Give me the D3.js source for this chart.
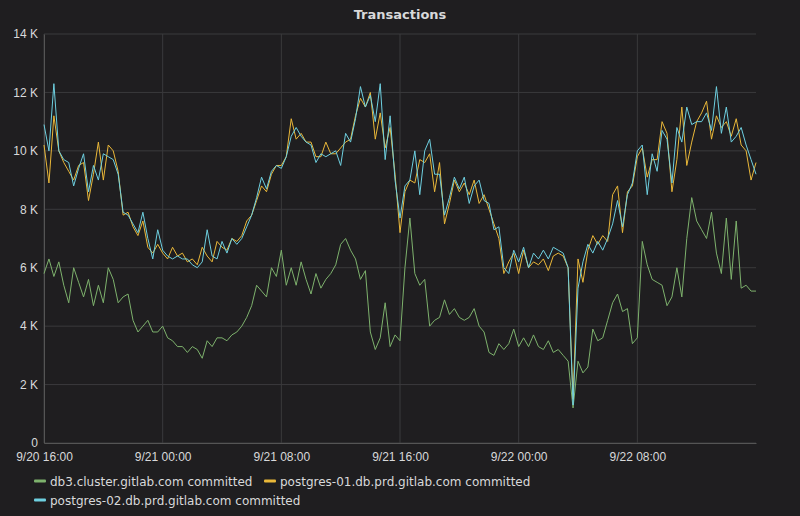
<!DOCTYPE html>
<html>
<head>
<meta charset="utf-8">
<script src="https://cdn.jsdelivr.net/npm/d3@7"></script>
<style>
  body { margin: 0; background: #1f1e20; }
  svg { font-family: "DejaVu Sans", sans-serif; }
</style>
</head>
<body>
<script>
// 20 minute samples, 9/20 16:00 to 9/22 16:00
let startTime = new Date(2018, 8, 20, 16, 0);
let stepMin = 20;

let db3 = [5.8,6.3,5.7,6.2,5.4,4.8,6.0,5.5,5.0,5.6,4.7,5.4,4.8,6.0,5.6,4.8,5.0,5.1,4.2,3.8,
  4.0,4.2,3.8,3.8,4.0,3.6,3.5,3.3,3.3,3.1,3.3,3.2,2.9,3.5,3.3,3.6,3.6,3.5,3.7,3.8,
  4.0,4.3,4.7,5.4,5.2,5.0,6.0,5.7,6.6,5.4,6.0,5.4,6.2,5.6,5.1,5.8,5.3,5.6,5.8,6.1,
  6.8,7.0,6.6,6.3,5.6,5.9,3.8,3.2,3.6,4.8,3.3,3.7,3.5,6.0,7.7,5.8,5.4,5.6,4.0,4.2,
  4.3,4.9,4.4,4.6,4.3,4.2,4.3,4.6,4.0,3.8,3.1,3.0,3.4,3.2,3.4,3.9,3.3,3.6,3.3,3.7,
  3.3,3.2,3.5,3.1,3.2,3.0,2.8,1.2,2.8,2.4,2.6,3.9,3.5,3.6,4.2,4.8,5.1,4.5,4.6,3.4,
  3.6,6.9,6.1,5.6,5.5,5.4,4.7,5.0,6.0,5.0,7.0,8.4,7.6,7.3,7.0,7.9,6.5,5.8,7.7,5.6,
  7.6,5.3,5.4,5.2,5.2];

let pg01 = [10.2,8.9,11.2,10.0,9.6,9.3,9.0,9.5,9.6,8.3,9.2,10.3,9.0,10.2,10.0,9.3,7.8,7.9,7.4,7.1,
  7.6,6.7,6.5,6.8,6.5,6.3,6.7,6.4,6.5,6.2,6.3,6.1,6.7,6.4,6.2,6.9,6.7,6.6,7.0,6.9,
  7.1,7.6,7.8,8.3,8.8,8.6,9.2,9.5,9.5,9.8,11.1,10.4,10.6,10.3,10.3,9.8,9.8,10.3,9.9,9.9,
  10.1,10.3,10.4,11.2,11.8,11.5,12.0,10.4,11.3,10.1,10.8,9.2,7.2,8.6,9.0,8.9,9.7,9.6,9.9,8.6,
  9.6,7.5,8.2,9.0,8.6,8.9,8.5,9.0,8.2,8.5,8.0,7.5,7.0,5.8,6.2,6.5,5.8,6.6,6.0,6.2,
  6.1,6.3,5.9,6.4,6.5,6.4,6.0,1.5,6.3,5.5,6.6,7.1,6.8,7.1,6.9,8.5,8.8,7.2,8.6,8.8,
  9.8,10.1,9.1,9.7,9.7,11.0,10.6,8.6,9.7,11.5,9.5,10.3,11.0,11.3,11.7,10.4,11.2,10.8,11.0,10.5,
  11.1,10.2,10.0,9.0,9.6];

let pg02 = [10.9,10.0,12.3,10.0,9.7,9.6,8.8,9.4,9.9,8.6,9.5,9.0,9.9,9.8,9.7,9.2,7.9,7.8,7.5,7.2,
  7.9,7.0,6.3,7.3,6.6,6.4,6.3,6.4,6.3,6.3,6.1,6.0,6.2,7.3,6.4,6.3,6.9,6.5,7.0,6.8,
  7.0,7.4,7.8,8.4,9.1,8.7,9.3,9.5,9.4,9.8,10.5,10.8,10.5,10.3,10.2,9.6,9.9,9.8,9.9,10.0,
  9.5,10.6,10.3,11.1,12.2,11.5,11.9,11.0,12.3,9.7,11.2,9.0,7.7,8.8,9.0,10.0,8.5,10.0,10.4,9.2,
  9.2,7.8,8.4,9.1,8.7,9.1,8.2,8.8,9.0,8.3,8.2,7.3,7.4,6.0,5.8,6.6,6.2,6.7,6.0,6.5,
  6.3,6.6,6.3,6.7,6.6,6.5,6.0,1.3,5.3,6.2,6.8,6.5,6.9,6.6,7.0,7.5,8.3,7.4,8.5,8.9,
  10.0,10.2,8.5,9.9,9.3,10.7,10.4,8.9,10.8,10.3,11.5,10.9,11.0,11.0,11.3,10.7,12.2,10.6,11.5,10.3,
  10.5,10.8,10.2,9.7,9.2];

let seriesNames = ["db3.cluster.gitlab.com committed", "postgres-01.db.prd.gitlab.com committed", "postgres-02.db.prd.gitlab.com committed"];
let seriesColors = ["#7eb26d", "#eab839", "#6ed0e0"];
let yTicks = [0, 2, 4, 6, 8, 10, 12, 14];

let w = 800, h = 516;
let margin = {left: 44, right: 44, top: 34, bottom: 73};

let svg = d3.select("body").append("svg").attr("width", w).attr("height", h);

let timeAt = (i) => new Date(startTime.getTime() + i * stepMin * 60000);

let xScale = d3.scaleTime()
  .domain([startTime, timeAt(db3.length - 1)])
  .range([margin.left, w - margin.right]);
let yScale = d3.scaleLinear().domain([0, 14]).range([h - margin.bottom, margin.top]);

// title
svg.append("text").attr("x", w / 2).attr("y", 19).attr("text-anchor", "middle")
  .attr("fill", "#d8d9da").style("font-size", "13px").style("font-weight", "bold")
  .text("Transactions");

// grid
let xTicks = d3.range(0, 6).map((k) => timeAt(k * 24));
svg.append("g").selectAll("line").data(yTicks).enter().append("line")
  .attr("x1", margin.left).attr("x2", w - margin.right)
  .attr("y1", (d) => yScale(d)).attr("y2", (d) => yScale(d))
  .style("stroke", "#3a3a3c");
svg.append("g").selectAll("line").data(xTicks).enter().append("line")
  .attr("x1", (d) => xScale(d)).attr("x2", (d) => xScale(d))
  .attr("y1", margin.top).attr("y2", h - margin.bottom)
  .style("stroke", "#3a3a3c");

// axes
let xAxis = d3.axisBottom(xScale).tickValues(xTicks).tickFormat(d3.timeFormat("%-m/%-d %H:%M")).tickSize(0).tickPadding(9);
let xg = svg.append("g").attr("transform", `translate(0, ${h - margin.bottom})`).call(xAxis);
let yAxis = d3.axisLeft(yScale).tickValues(yTicks).tickFormat((d) => d === 0 ? "0" : d + " K").tickSize(0).tickPadding(6);
let yg = svg.append("g").attr("transform", `translate(${margin.left}, 0)`).call(yAxis);
[xg, yg].forEach((g) => {
  g.select(".domain").style("stroke", "#555");
  g.selectAll("text").attr("fill", "#d8d9da").style("font-size", "12px");
});

// series
let line = d3.line().x((d, i) => xScale(timeAt(i))).y((d) => yScale(d));
[db3, pg01, pg02].forEach((s, k) => {
  svg.append("path").datum(s).attr("d", line)
    .style("fill", "none").style("stroke", seriesColors[k]).style("stroke-width", 1);
});

// legend
let legendPos = [[34, 481], [264, 481], [34, 500]];
seriesNames.forEach((n, k) => {
  let g = svg.append("g").attr("transform", `translate(${legendPos[k][0]}, ${legendPos[k][1]})`);
  g.append("rect").attr("x", 0).attr("y", -1.5).attr("width", 12).attr("height", 3).attr("rx", 1).style("fill", seriesColors[k]);
  g.append("text").attr("x", 16).attr("y", 4.5).attr("fill", "#d8d9da").style("font-size", "12px").text(n);
});
</script>
</body>
</html>
